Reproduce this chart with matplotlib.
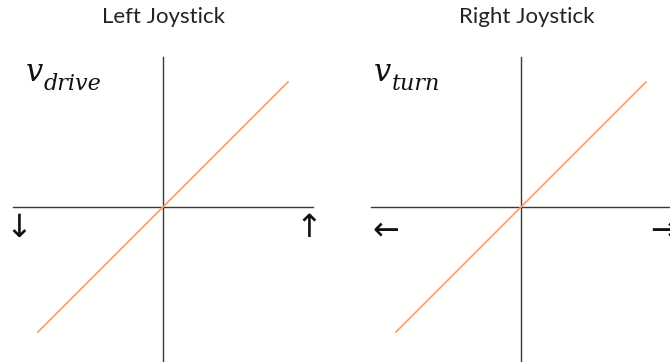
import matplotlib
matplotlib.use("Agg")
import matplotlib.pyplot as plt
import numpy as np

titles = ["Left Joystick", "Right Joystick"]
label_main = ["v", "v"]
label_sub = ["drive", "turn"]
arrows = [("↓", "↑"), ("←", "→")]
x_vals = [-1.0, 1.0]
y_vals = [-1.0, 1.0]

W, H = 670, 362
fig = plt.figure(figsize=(W / 100, H / 100), dpi=100)

centers = [163, 521]
title_x = [164, 527]
label_x = [26, 374]
arrow_pos = [((18.5, 228.5), (309, 228.5)), ((385.5, 231), (663.5, 231))]
axis_color = "#3a3a3a"
orange = "#F4A46E"

def px(x, y):
    return x / W, 1 - y / H

for i, cx in enumerate(centers):
    left = cx - 150
    ax = fig.add_axes([left / W, (H - 357) / H, 300 / W, 300 / H])
    ax.set_xlim(-1.2, 1.2)
    ax.set_ylim(-1.2, 1.2)
    ax.axis("off")
    ax.axhline(0, color=axis_color, lw=1.0, clip_on=False)
    ax.axvline(0, color=axis_color, lw=1.0, ymax=1.0, ymin=-0.02, clip_on=False)
    ax.plot(x_vals, y_vals, color=orange, lw=1.3)
    fig.text(*px(title_x[i], 23), titles[i], ha="center", va="baseline",
             fontsize=16, family="Lato", color="#222222")
    lx = label_x[i]
    fig.text(*px(lx, 81), label_main[i], ha="left", va="baseline",
             fontsize=22, family="DejaVu Serif", style="italic", color="#111111")
    fig.text(*px(lx + 18, 90), label_sub[i], ha="left", va="baseline",
             fontsize=16, family="DejaVu Serif", style="italic", color="#111111")
    for (ax_, ay_), a in zip(arrow_pos[i], arrows[i]):
        fig.text(*px(ax_, ay_), a, ha="center", va="center",
                 fontsize=23, family="DejaVu Sans", color="#111111")

fig.savefig("out.png", dpi=100, facecolor="white")
